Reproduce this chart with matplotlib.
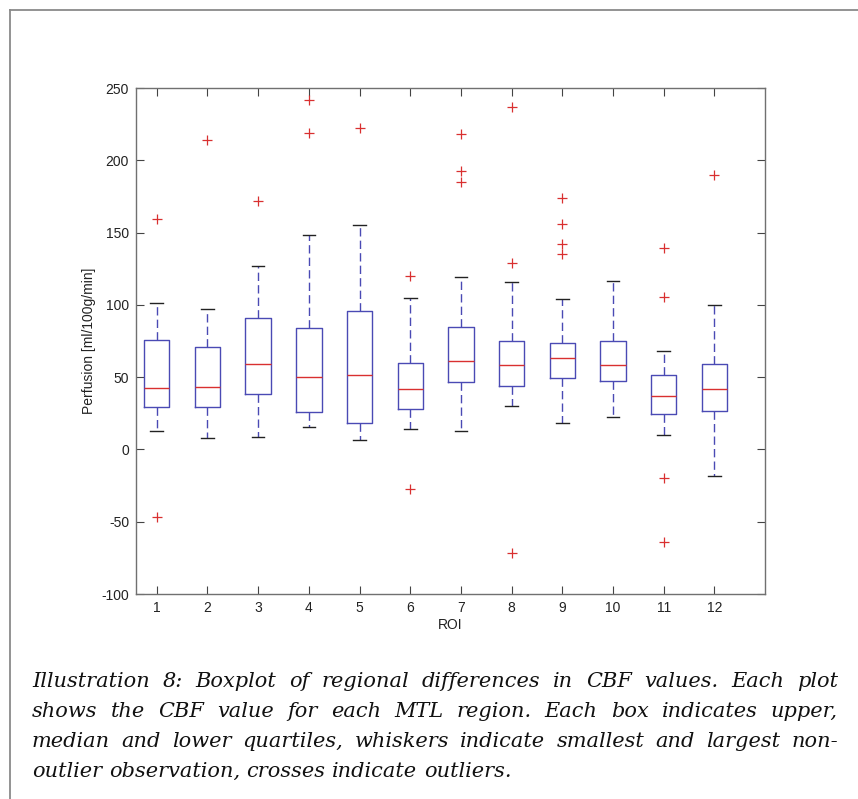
import matplotlib
matplotlib.use("Agg")
import matplotlib.pyplot as plt
from matplotlib.lines import Line2D

plt.rcParams["axes.unicode_minus"] = False

# ---- data ----
rois = [1, 2, 3, 4, 5, 6, 7, 8, 9, 10, 11, 12]
whisker_low = [12.7, 7.7, 8.4, 15.3, 6.5, 14.3, 12.9, 29.8, 18.0, 22.2, 9.8, -18.4]
q1 = [29.3, 29.3, 38.1, 25.7, 18.5, 27.9, 46.6, 43.6, 49.2, 47.1, 24.7, 26.4]
median = [42.2, 42.9, 58.9, 49.9, 51.5, 41.8, 60.9, 58.4, 63.4, 58.2, 36.7, 41.6]
q3 = [75.7, 71.0, 90.7, 83.8, 95.5, 60.0, 84.9, 75.2, 73.8, 75.2, 51.3, 58.9]
whisker_high = [101.5, 97.3, 126.6, 148.1, 155.2, 104.7, 119.5, 115.6, 104.3, 116.3, 68.1, 100.1]
outliers = [
    [159.2, -46.5],
    [214.0],
    [171.6],
    [241.9, 218.9],
    [222.1],
    [119.9, -27.6],
    [218.2, 192.8, 185.2],
    [237.1, 129.2, -71.9],
    [174.1, 155.9, 142.3, 135.2],
    [],
    [139.1, 105.6, -19.6, -64.3],
    [190.0],
]
yticks = [-100, -50, 0, 50, 100, 150, 200, 250]
xlabel = "ROI"
ylabel = "Perfusion [ml/100g/min]"
caption_lines = [
    "Illustration 8: Boxplot of regional differences in CBF values. Each plot",
    "shows the CBF value for each MTL region. Each box indicates upper,",
    "median and lower quartiles, whiskers indicate smallest and largest non-",
    "outlier observation, crosses indicate outliers.",
]

W, H = 858, 799
fig = plt.figure(figsize=(W / 100, H / 100), dpi=100)
fig.patch.set_facecolor("white")

ax = fig.add_axes([136 / W, 1 - 594 / H, (765 - 136) / W, (594 - 88) / H])

stats = []
for i in range(len(rois)):
    stats.append(dict(med=median[i], q1=q1[i], q3=q3[i],
                      whislo=whisker_low[i], whishi=whisker_high[i],
                      fliers=outliers[i], label=str(rois[i])))

blue = "#4a4ab4"
ax.bxp(stats, positions=rois, widths=0.5, capwidths=0.25,
       boxprops=dict(color=blue, linewidth=1.0),
       whiskerprops=dict(color=blue, linewidth=1.0, linestyle=(0, (6, 3))),
       capprops=dict(color="#222222", linewidth=1.0),
       medianprops=dict(color="#d93030", linewidth=1.0),
       flierprops=dict(marker="+", markeredgecolor="#d93030",
                       markersize=7, markeredgewidth=0.9, linestyle="none"))

ax.set_xlim(0.59, 13.0)
ax.set_ylim(-100, 250)
ax.set_yticks(yticks)
ax.set_xticks(rois)
ax.set_xticklabels([str(r) for r in rois])

font = "Liberation Sans"
for lbl in ax.get_xticklabels() + ax.get_yticklabels():
    lbl.set_fontfamily(font)
    lbl.set_fontsize(10)
    lbl.set_color("#222222")
ax.tick_params(direction="in", length=6, width=0.8, color="#444444",
               top=True, right=True, pad=5)
for s in ax.spines.values():
    s.set_color("#707070")
    s.set_linewidth(1.0)
ax.set_xlabel(xlabel, fontfamily=font, fontsize=10, color="#222222", labelpad=2)
ax.set_ylabel(ylabel, fontfamily=font, fontsize=10, color="#222222", labelpad=4)

# outer frame (top and left edges)
fig.add_artist(Line2D([10 / W, 10 / W], [0, 1 - 10 / H], transform=fig.transFigure,
                      color="#8a8a8a", linewidth=1.3))
fig.add_artist(Line2D([10 / W, 1], [1 - 10 / H, 1 - 10 / H], transform=fig.transFigure,
                      color="#8a8a8a", linewidth=1.3))

# justified caption
cap_font = dict(fontfamily="DejaVu Serif", fontstyle="italic", fontsize=15, color="#111111")
x_left, x_right = 32, 838
baselines = [687, 717, 747, 777]
renderer = fig.canvas.get_renderer()
space_t = fig.text(0, 0, "a a", **cap_font)
a_t = fig.text(0, 0, "aa", **cap_font)
space_w = space_t.get_window_extent(renderer).width - a_t.get_window_extent(renderer).width
space_t.remove()
a_t.remove()
for li, line in enumerate(caption_lines):
    words = line.split(" ")
    texts = [fig.text(0, 1 - baselines[li] / H, w, ha="left", va="baseline", **cap_font)
             for w in words]
    widths = [t.get_window_extent(renderer).width for t in texts]
    if li < len(caption_lines) - 1:
        gap = max((x_right - x_left - sum(widths)) / (len(words) - 1), 0.5 * space_w)
    else:
        gap = space_w
    x = x_left
    for t, w in zip(texts, widths):
        t.set_x(x / W)
        x += w + gap

fig.savefig("out.png", dpi=100, facecolor="white")
